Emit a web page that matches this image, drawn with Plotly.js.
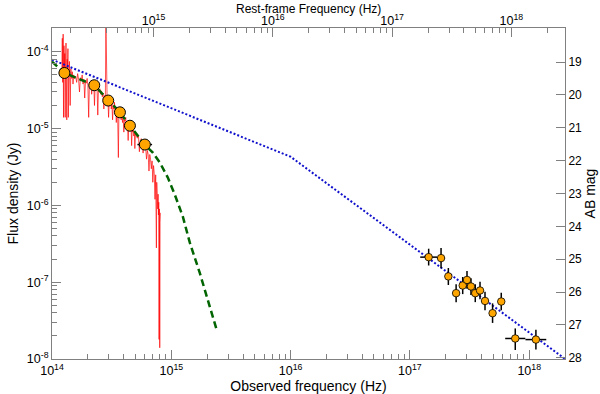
<!DOCTYPE html>
<html>
<head>
<meta charset="utf-8">
<script src="https://cdn.plot.ly/plotly-3.0.1.min.js"></script>
<style>
  html, body { margin: 0; padding: 0; background: #fff; }
  #chart { width: 600px; height: 394px; }
</style>
</head>
<body>
<div id="chart"></div>
<script>
// SED plot: optical spectrum + photometry, X-ray points, model curves

const ONE_PLUS_Z = 1.41;   // shifts the rest-frame axis on top

// ── Optical spectrum (nu in 1e14 Hz, flux in microJy) ──
const specNu = [
  1.21, 1.22, 1.23, 1.24, 1.25, 1.26, 1.27, 1.28, 1.29, 1.30, 1.31, 1.32, 1.33,
  1.34, 1.35, 1.36, 1.37, 1.38, 1.40, 1.42, 1.44, 1.46, 1.48, 1.50, 1.52, 1.55,
  1.58, 1.61, 1.64, 1.67, 1.70, 1.73, 1.76, 1.79, 1.82, 1.85, 1.88, 1.91, 1.94,
  1.97, 2.00, 2.03, 2.06, 2.09, 2.12, 2.15, 2.18, 2.21, 2.24, 2.27, 2.30, 2.33,
  2.36, 2.39, 2.42, 2.45, 2.48, 2.52,
  2.56, 2.60, 2.64, 2.68, 2.72, 2.76, 2.80, 2.83, 2.86, 2.90, 2.94, 2.98, 3.02,
  3.06, 3.10, 3.14, 3.18, 3.22, 3.26, 3.30, 3.34, 3.38, 3.42, 3.46, 3.50, 3.55,
  3.60, 3.64, 3.68,
  3.75, 3.80, 3.85, 3.90, 3.95, 4.00, 4.05, 4.10, 4.15, 4.20, 4.25, 4.30, 4.35,
  4.40, 4.45, 4.50, 4.55, 4.60, 4.65, 4.70, 4.75, 4.80, 4.85, 4.90, 4.95, 5.00,
  5.10, 5.20, 5.30, 5.40, 5.50, 5.60, 5.70, 5.80, 5.90, 6.00,
  6.10, 6.20, 6.30, 6.40, 6.50, 6.60, 6.70, 6.80, 6.90, 7.00, 7.10, 7.20, 7.30,
  7.40, 7.50, 7.55, 7.60, 7.65, 7.70, 7.75, 7.80, 7.85, 7.90, 7.95, 8.00, 8.05, 8.10,
];
const specFlux = [
  60, 150, 40, 170, 14, 120, 55, 95, 14, 70, 130, 45, 13,
  80, 60, 110, 14, 50, 75, 20, 60, 45, 55, 38, 50, 45,
  48, 40, 52, 44, 30, 46, 42, 50, 38, 44, 25, 42, 39,
  45, 36, 14, 40, 37, 42, 28, 38, 35, 40, 20, 36, 33,
  38, 31, 15, 34, 30, 33,
  28, 31, 26, 29, 18, 27, 24, 260, 25, 22, 26, 14, 23,
  20, 24, 18, 21, 13, 20, 18, 22, 17, 19, 12, 18, 16,
  4.2, 17, 15,
  16, 13, 15.5, 12, 14, 9, 13, 12.5, 14, 10, 12, 11, 7,
  11.5, 10, 12, 9.5, 10.5, 6, 9.8, 9, 10, 8, 9, 5.5, 8.5,
  8, 7.5, 8.2, 5, 7, 7.4, 6.5, 4.8, 6.6, 6.2,
  5.6, 4.0, 5.2, 4.6, 2.8, 4.6, 4.0, 3.0, 3.8, 2.0, 3.3, 2.6, 1.2,
  2.5, 0.28, 2.0, 1.4, 1.8, 0.9, 1.4, 0.75, 1.1, 0.018, 0.9, 0.014, 0.6, 0.8,
];

// ── Optical photometry (Hz, Jy) ──
const optNu   = [1.27e14, 2.26e14, 2.96e14, 3.71e14, 4.50e14, 6.00e14];
const optFlux = [5.30e-5, 3.67e-5, 2.32e-5, 1.63e-5, 1.09e-5, 6.20e-6];
const optNuLo = [1.27e14, 2.26e14, 2.96e14, 3.71e14, 4.50e14, 5.20e14];
const optNuHi = [1.27e14, 2.26e14, 2.96e14, 3.71e14, 4.50e14, 6.90e14];

// ── X-ray points (Hz, Jy) with bounds ──
const xrNu   = [1.436e17, 1.824e17, 2.10e17, 2.44e17, 2.77e17, 3.01e17, 3.25e17,
                3.53e17, 3.87e17, 4.26e17, 4.93e17, 5.83e17, 7.64e17, 1.138e18];
const xrNuLo = [1.22e17, 1.69e17, 1.96e17, 2.28e17, 2.58e17, 2.81e17, 3.03e17,
                3.29e17, 3.61e17, 3.97e17, 4.60e17, 5.44e17, 6.29e17, 9.30e17];
const xrNuHi = [1.69e17, 1.97e17, 2.25e17, 2.62e17, 2.97e17, 3.23e17, 3.48e17,
                3.78e17, 4.15e17, 4.56e17, 5.28e17, 6.25e17, 9.28e17, 1.39e18];
const xrFlux = [2.12e-7, 2.06e-7, 1.19e-7, 7.2e-8, 9.06e-8, 1.07e-7, 8.8e-8,
                7.2e-8, 7.8e-8, 5.7e-8, 3.95e-8, 5.6e-8, 1.85e-8, 1.79e-8];
const xrFluxLo = [1.65e-7, 1.52e-7, 9.2e-8, 5.5e-8, 7.0e-8, 8.2e-8, 6.8e-8,
                  5.5e-8, 6.0e-8, 4.3e-8, 2.95e-8, 4.3e-8, 1.31e-8, 1.33e-8];
const xrFluxHi = [2.73e-7, 2.78e-7, 1.53e-7, 9.4e-8, 1.17e-7, 1.40e-7, 1.13e-7,
                  9.4e-8, 1.01e-7, 7.5e-8, 5.3e-8, 7.3e-8, 2.5e-8, 2.4e-8];

// ── Models ──
const pwlNu   = [1e14, 1e16, 2e18];
const pwlFlux = [7.9e-5, 4.3e-6, 1.0e-8];

const hostNu   = [1.0e14, 1.27e14, 2.26e14, 2.96e14, 3.71e14, 4.5e14, 6.0e14, 7.0e14,
                  8.02e14, 9.35e14, 1.07e15, 1.25e15, 1.43e15, 1.73e15, 2.02e15, 2.40e15];
const hostFlux = [7.46e-5, 5.3e-5, 3.67e-5, 2.32e-5, 1.63e-5, 1.09e-5, 6.18e-6, 4.86e-6,
                  3.61e-6, 2.30e-6, 1.38e-6, 7.13e-7, 3.27e-7, 1.33e-7, 5.9e-8, 2.4e-8];

// ── Axes ──
const MAG_RANGE = [28.04, 17.96];
const magTicks = [19, 20, 21, 22, 23, 24, 25, 26, 27, 28];
const nuDecades = [13, 14, 15, 16, 17, 18];
const fluxDecades = [-8, -7, -6, -5, -4];
const tickSteps = [1, 2, 3, 4, 5, 6, 7, 8, 9];   // 1 = labelled decade, others = minor

// all ticks of a log axis, with a label only on the decades
const logTicks = decs => {
    const vals = [], text = [];
    decs.forEach(d => tickSteps.forEach(m => {
        vals.push(m * Math.pow(10, d));
        text.push(m === 1 ? `10<sup>${d}</sup>` : '');
    }));
    return { tickvals: vals, ticktext: text };
};
const decadeTicks = decs => ({
    tickvals: decs.map(d => Math.pow(10, d)), ticktext: decs.map(() => ''),
});

const diff = (a, b) => a.map((v, i) => v - b[i]);
const ORANGE = 'rgb(255,165,0)';

const traces = [
    {   // spectrum
        x: specNu.map(v => v * 1e14), y: specFlux.map(v => v * 1e-6),
        mode: 'lines', line: { color: 'rgba(255,0,0,0.85)', width: 0.8 },
    },
    {   // host / optical model
        x: hostNu, y: hostFlux, mode: 'lines',
        line: { color: '#006400', width: 2.5, dash: '7px,4px' },
    },
    {   // broken power law
        x: pwlNu, y: pwlFlux, mode: 'lines',
        line: { color: '#1010cc', width: 2, dash: '2px,2px' },
    },
    {   // optical photometry
        x: optNu, y: optFlux, mode: 'markers',
        marker: { size: 11, color: ORANGE, line: { color: '#000', width: 1 } },
        error_x: { type: 'data', symmetric: false, array: diff(optNuHi, optNu),
                   arrayminus: diff(optNu, optNuLo), color: '#000', thickness: 1.5, width: 0 },
    },
    {   // X-ray
        x: xrNu, y: xrFlux, mode: 'markers',
        marker: { size: 7.5, color: ORANGE, line: { color: '#000', width: 0.8 } },
        error_x: { type: 'data', symmetric: false, array: diff(xrNuHi, xrNu),
                   arrayminus: diff(xrNu, xrNuLo), color: '#000', thickness: 1.5, width: 0 },
        error_y: { type: 'data', symmetric: false, array: diff(xrFluxHi, xrFlux),
                   arrayminus: diff(xrFlux, xrFluxLo), color: '#000', thickness: 1.5, width: 0 },
    },
    // empty traces so the extra axes get drawn
    { x: [], y: [], xaxis: 'x2', yaxis: 'y', mode: 'markers' },
    { x: [], y: [], xaxis: 'x', yaxis: 'y2', mode: 'markers' },
    { x: [], y: [], xaxis: 'x3', yaxis: 'y', mode: 'markers' },
    { x: [], y: [], xaxis: 'x4', yaxis: 'y', mode: 'markers' },
    { x: [], y: [], xaxis: 'x', yaxis: 'y3', mode: 'markers' },
];

const AXIS = {
    showline: true, linecolor: '#808080', linewidth: 1,
    ticks: 'inside', tickcolor: '#808080', ticklen: 5, tickwidth: 1,
    showgrid: false, zeroline: false, tickmode: 'array',
    tickfont: { size: 12.5, color: '#000' },
};
// overlay axes that only add the longer decade ticks
const LONG = {
    showline: false, showgrid: false, zeroline: false, tickmode: 'array',
    ticks: 'inside', ticklen: 9, tickcolor: '#808080', tickwidth: 1,
};
const zShift = Math.log10(ONE_PLUS_Z);
const xRange = [14, 18.3];
const topRange = [14 + zShift, 18.3 + zShift];
const yRange = [-8, -3.69];

const layout = {
    width: 600, height: 394,
    margin: { l: 52, r: 35, t: 28, b: 35 },
    paper_bgcolor: 'white', plot_bgcolor: 'white',
    font: { family: 'Liberation Sans, Arial, sans-serif', size: 12, color: '#000' },
    showlegend: false,
    xaxis: { ...AXIS, type: 'log', range: xRange, ...logTicks(nuDecades),
             title: { text: 'Observed frequency (Hz)', standoff: 0 } },
    xaxis2: { ...AXIS, type: 'log', overlaying: 'x', side: 'top', anchor: 'y', range: topRange,
              ...logTicks(nuDecades), ticklabelstandoff: -3 },
    xaxis3: { ...LONG, type: 'log', overlaying: 'x', side: 'bottom', anchor: 'y',
              range: xRange, ...decadeTicks(nuDecades) },
    xaxis4: { ...LONG, type: 'log', overlaying: 'x', side: 'top', anchor: 'y',
              range: topRange, ...decadeTicks(nuDecades) },
    yaxis: { ...AXIS, type: 'log', range: yRange, ...logTicks(fluxDecades),
             title: { text: 'Flux density (Jy)', standoff: 4 } },
    yaxis3: { ...LONG, type: 'log', overlaying: 'y', side: 'left', anchor: 'x',
              range: yRange, ...decadeTicks(fluxDecades) },
    yaxis2: { ...AXIS, overlaying: 'y', side: 'right', anchor: 'x', range: MAG_RANGE,
              ticklen: 9, tickvals: magTicks, tickfont: { size: 12, color: '#000' },
              title: { text: 'AB mag', standoff: 2 } },
    annotations: [
        { text: 'Rest-frame Frequency (Hz)', xref: 'paper', yref: 'paper', x: 0.5, y: 1.058,
          showarrow: false, xanchor: 'center', yanchor: 'middle', font: { size: 12 } },
    ],
};

Plotly.newPlot('chart', traces, layout, { displayModeBar: false, staticPlot: true });
</script>
</body>
</html>
